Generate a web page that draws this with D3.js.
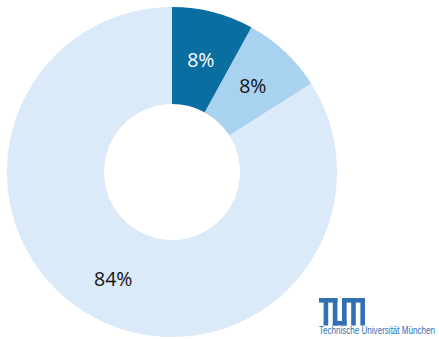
<!DOCTYPE html>
<html>
<head>
<meta charset="utf-8">
<script src="https://cdn.jsdelivr.net/npm/d3@7/dist/d3.min.js"></script>
<style>
  html, body { margin: 0; padding: 0; background: #fff; }
  svg { display: block; }
</style>
</head>
<body>
<svg id="chart" width="439" height="339"></svg>
<script>
// Share of each group (percent)
const categories = ["A", "B", "C"];
const values = [8, 8, 84];
const labels = ["8%", "8%", "84%"];
const colors = ["#0a6ea0", "#a9d1f0", "#dbeaf8"];
const labelColors = ["#ffffff", "#111111", "#111111"];

const svg = d3.select("#chart");
const cx = 172, cy = 172;
const outerR = 165, innerR = 68;

const pie = d3.pie().sort(null).value(d => d.value);
const arcs = pie(categories.map((c, i) => ({ cat: c, value: values[i], i })));
const arc = d3.arc().innerRadius(innerR).outerRadius(outerR);
// label radius per slice (the large slice's label sits a bit further out)
const labelR = [116, 118, 122];

const g = svg.append("g").attr("transform", `translate(${cx},${cy})`);

g.selectAll("path.slice")
  .data(arcs)
  .join("path")
  .attr("class", "slice")
  .attr("d", arc)
  .attr("fill", d => colors[d.data.i]);

g.selectAll("text.lbl")
  .data(arcs)
  .join("text")
  .attr("class", "lbl")
  .attr("transform", d => {
    const r = labelR[d.data.i];
    const a = (d.startAngle + d.endAngle) / 2;
    return `translate(${r * Math.sin(a)},${-r * Math.cos(a)})`;
  })
  .attr("text-anchor", "middle")
  .attr("dy", "0.36em")
  .attr("font-family", "'Open Sans', sans-serif")
  .attr("font-size", 19.5)
  .attr("fill", d => labelColors[d.data.i])
  .text(d => labels[d.data.i]);

// University wordmark, bottom right
const logoBlue = "#3070b3";
const logo = svg.append("g").attr("transform", "translate(319,298)");
const w = 4.6, h = 27.5;
const parts = [
  [0, 0, 4 * w, w],        // T top bar
  [w, 0, w, h],            // T stem
  [3 * w, 0, w, h],        // U left leg
  [3 * w, h - w, 3 * w, w],// U bottom bar
  [5 * w, 0, w, h],        // U right / M left leg
  [5 * w, 0, 5 * w, w],    // M top bar
  [7 * w, 0, w, h],        // M middle leg
  [9 * w, 0, w, h]         // M right leg
];
logo.selectAll("rect")
  .data(parts)
  .join("rect")
  .attr("x", d => d[0])
  .attr("y", d => d[1])
  .attr("width", d => d[2])
  .attr("height", d => d[3])
  .attr("fill", logoBlue);

// Condensed caption under the mark, squeezed horizontally to a fixed width
const caption = svg.append("text")
  .attr("font-family", "'Liberation Sans', Arial, sans-serif")
  .attr("font-size", 10)
  .attr("fill", logoBlue)
  .text("Technische Universität München");
const natural = caption.node().getComputedTextLength();
caption.attr("transform", `translate(319,334) scale(${116 / natural},1)`);
</script>
</body>
</html>
